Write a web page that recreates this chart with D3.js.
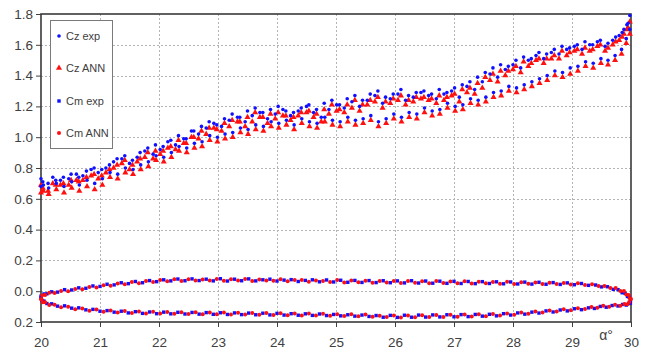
<!DOCTYPE html>
<html>
<head>
<meta charset="utf-8">
<script src="https://cdn.jsdelivr.net/npm/d3@7"></script>
<style>
  html, body { margin: 0; padding: 0; background: #fff; }
  svg { display: block; }
  text { font-family: "Liberation Sans", Arial, sans-serif; fill: #404040; }
</style>
</head>
<body>
<svg id="chart" width="651" height="349"></svg>
<script>
// Angle of attack axis (deg) and coefficient axis tick values
const xTicks = [20, 21, 22, 23, 24, 25, 26, 27, 28, 29, 30];
const yTicks = [-0.2, 0.0, 0.2, 0.4, 0.6, 0.8, 1.0, 1.2, 1.4, 1.6, 1.8];
const seriesNames = ["Cz exp", "Cz ANN", "Cm exp", "Cm ANN"];

// Lift coefficient, upstroke
const czAlphaUp = [
  20.00,20.12,20.25,20.38,20.51,20.64,20.77,20.90,21.03,21.16,
  21.29,21.42,21.55,21.68,21.81,21.94,22.07,22.20,22.33,22.46,
  22.59,22.72,22.85,22.98,23.11,23.24,23.37,23.50,23.63,23.76,
  23.89,24.02,24.15,24.28,24.41,24.54,24.67,24.80,24.93,25.06,
  25.19,25.32,25.45,25.58,25.71,25.84,25.97,26.10,26.23,26.36,
  26.49,26.62,26.75,26.88,27.01,27.14,27.27,27.40,27.53,27.66,
  27.79,27.92,28.05,28.18,28.31,28.44,28.57,28.70,28.83,28.96,
  29.09,29.22,29.35,29.48,29.61,29.74,29.85,29.93,29.98];
const czExpUp = [
  0.73,0.70,0.72,0.74,0.76,0.74,0.78,0.80,0.79,0.82,
  0.86,0.88,0.85,0.90,0.93,0.95,0.94,0.98,1.01,0.99,
  1.04,1.07,1.10,1.08,1.12,1.15,1.13,1.17,1.19,1.16,
  1.18,1.20,1.17,1.16,1.19,1.21,1.18,1.22,1.24,1.21,
  1.25,1.27,1.24,1.28,1.30,1.26,1.28,1.31,1.27,1.29,
  1.30,1.28,1.31,1.29,1.32,1.34,1.36,1.39,1.42,1.45,
  1.47,1.46,1.50,1.52,1.51,1.55,1.54,1.57,1.59,1.58,
  1.60,1.62,1.60,1.63,1.61,1.65,1.68,1.73,1.79];
const czAnnUp = [
  0.69,0.65,0.69,0.70,0.72,0.71,0.74,0.76,0.75,0.79,
  0.82,0.85,0.82,0.86,0.90,0.91,0.91,0.94,0.98,0.96,
  1.00,1.04,1.06,1.05,1.09,1.11,1.10,1.13,1.16,1.13,
  1.15,1.16,1.14,1.13,1.16,1.17,1.15,1.18,1.21,1.18,
  1.21,1.24,1.21,1.24,1.26,1.23,1.25,1.27,1.24,1.26,
  1.26,1.25,1.27,1.26,1.28,1.31,1.32,1.35,1.39,1.41,
  1.43,1.43,1.46,1.49,1.48,1.51,1.51,1.53,1.56,1.55,
  1.57,1.58,1.57,1.60,1.58,1.62,1.65,1.70,1.75];

// Lift coefficient, downstroke
const czAlphaDown = [
  29.98,29.92,29.84,29.73,29.61,29.49,29.36,29.23,29.10,28.97,
  28.84,28.71,28.58,28.45,28.32,28.19,28.06,27.93,27.80,27.67,
  27.54,27.41,27.28,27.15,27.02,26.89,26.76,26.63,26.50,26.37,
  26.24,26.11,25.98,25.85,25.72,25.59,25.46,25.33,25.20,25.07,
  24.94,24.81,24.68,24.55,24.42,24.29,24.16,24.03,23.90,23.77,
  23.64,23.51,23.38,23.25,23.12,22.99,22.86,22.73,22.60,22.47,
  22.34,22.21,22.08,21.95,21.82,21.69,21.56,21.43,21.30,21.17,
  21.04,20.91,20.78,20.65,20.52,20.39,20.26,20.13,20.04,20.00];
const czExpDown = [
  1.70,1.64,1.57,1.53,1.50,1.51,1.48,1.49,1.46,1.45,
  1.42,1.43,1.40,1.38,1.36,1.34,1.32,1.33,1.30,1.29,
  1.26,1.24,1.25,1.21,1.20,1.22,1.18,1.17,1.19,1.15,
  1.16,1.13,1.15,1.12,1.10,1.14,1.12,1.11,1.13,1.10,
  1.11,1.13,1.09,1.10,1.12,1.08,1.11,1.09,1.10,1.07,
  1.08,1.05,1.06,1.03,1.02,1.00,1.01,0.97,0.96,0.93,
  0.94,0.90,0.87,0.88,0.84,0.82,0.79,0.80,0.76,0.77,
  0.73,0.70,0.72,0.69,0.71,0.68,0.70,0.67,0.69,0.68];
const czAnnDown = [
  1.67,1.61,1.54,1.50,1.47,1.48,1.45,1.46,1.43,1.41,
  1.39,1.40,1.37,1.35,1.33,1.31,1.29,1.30,1.27,1.26,
  1.23,1.21,1.22,1.18,1.17,1.19,1.15,1.14,1.16,1.12,
  1.13,1.10,1.12,1.09,1.07,1.11,1.09,1.08,1.10,1.07,
  1.08,1.10,1.06,1.07,1.09,1.05,1.08,1.06,1.07,1.04,
  1.05,1.02,1.03,1.00,0.99,0.97,0.98,0.94,0.93,0.90,
  0.91,0.87,0.84,0.85,0.81,0.79,0.76,0.77,0.73,0.74,
  0.69,0.66,0.68,0.65,0.67,0.64,0.66,0.63,0.65,0.64];

// Lift coefficient, second cycle
const czAlphaMid = [
  20.03,20.20,20.33,20.47,20.60,20.71,20.85,20.97,21.10,21.23,
  21.37,21.50,21.63,21.76,21.90,22.02,22.15,22.28,22.42,22.55,
  22.67,22.80,22.93,23.06,23.19,23.33,23.46,23.58,23.71,23.84,
  23.97,24.10,24.23,24.36,24.50,24.62,24.75,24.88,25.01,25.14,
  25.27,25.40,25.53,25.66,25.79,25.92,26.05,26.18,26.31,26.44,
  26.57,26.70,26.83,26.96,27.09,27.22,27.35,27.48,27.61,27.74,
  27.87,28.00,28.13,28.26,28.39,28.52,28.65,28.78,28.91,29.04,
  29.17,29.30,29.43,29.56,29.69,29.80,29.88,29.95];
const czExpMid = [
  0.71,0.74,0.72,0.73,0.76,0.75,0.79,0.77,0.80,0.84,
  0.86,0.83,0.87,0.91,0.89,0.92,0.97,0.95,0.99,1.04,
  1.02,1.06,1.09,1.07,1.11,1.13,1.10,1.14,1.16,1.12,
  1.15,1.18,1.14,1.17,1.20,1.16,1.13,1.18,1.21,1.19,
  1.23,1.20,1.24,1.27,1.22,1.25,1.28,1.24,1.26,1.29,
  1.27,1.25,1.28,1.30,1.26,1.33,1.31,1.36,1.41,1.39,
  1.44,1.47,1.45,1.50,1.53,1.51,1.55,1.54,1.57,1.59,
  1.57,1.60,1.62,1.59,1.63,1.66,1.70,1.74];
const czAnnMid = [
  0.67,0.70,0.69,0.69,0.72,0.72,0.75,0.73,0.77,0.80,
  0.83,0.79,0.84,0.87,0.86,0.89,0.93,0.92,0.96,1.00,
  0.99,1.02,1.06,1.04,1.07,1.10,1.07,1.10,1.13,1.09,
  1.12,1.14,1.11,1.14,1.16,1.13,1.10,1.15,1.17,1.16,
  1.19,1.17,1.21,1.23,1.19,1.22,1.24,1.21,1.23,1.25,
  1.24,1.22,1.24,1.27,1.23,1.29,1.28,1.32,1.37,1.36,
  1.40,1.44,1.42,1.46,1.50,1.48,1.51,1.51,1.53,1.56,
  1.54,1.56,1.59,1.56,1.60,1.63,1.67,1.71];

// Pitching moment coefficient, upper branch (experiment)
const cmAlphaUp = [
  20.00,20.05,20.10,20.18,20.28,20.40,20.52,20.64,20.76,20.88,
  21.00,21.12,21.24,21.36,21.48,21.60,21.72,21.84,21.96,22.08,
  22.20,22.32,22.44,22.56,22.68,22.80,22.92,23.04,23.16,23.28,
  23.40,23.52,23.64,23.76,23.88,24.00,24.12,24.24,24.36,24.48,
  24.60,24.72,24.84,24.96,25.08,25.20,25.32,25.44,25.56,25.68,
  25.80,25.92,26.04,26.16,26.28,26.40,26.52,26.64,26.76,26.88,
  27.00,27.12,27.24,27.36,27.48,27.60,27.72,27.84,27.96,28.08,
  28.20,28.32,28.44,28.56,28.68,28.80,28.92,29.04,29.16,29.28,
  29.40,29.50,29.60,29.70,29.78,29.85,29.90,29.94,29.97,29.99];
const cmExpUp = [
  -0.032,-0.018,-0.017,-0.004,-0.006,0.010,0.008,0.022,0.019,0.034,
  0.031,0.045,0.041,0.055,0.049,0.063,0.055,0.069,0.062,0.074,
  0.067,0.079,0.068,0.080,0.069,0.078,0.067,0.081,0.066,0.078,
  0.068,0.080,0.067,0.074,0.078,0.066,0.072,0.075,0.063,0.070,
  0.074,0.061,0.073,0.060,0.071,0.058,0.070,0.057,0.069,0.056,
  0.068,0.055,0.067,0.054,0.068,0.053,0.066,0.052,0.065,0.051,
  0.064,0.050,0.063,0.049,0.062,0.050,0.061,0.048,0.060,0.047,
  0.059,0.046,0.058,0.045,0.056,0.044,0.054,0.042,0.050,0.038,
  0.040,0.028,0.029,0.012,0.010,-0.010,-0.014,-0.034,-0.038,-0.060];

// Pitching moment coefficient, upper branch (network)
const cmAnnAlphaUp = [
  20.02,20.07,20.14,20.23,20.34,20.46,20.58,20.70,20.82,20.94,
  21.06,21.18,21.30,21.42,21.54,21.66,21.78,21.90,22.02,22.14,
  22.26,22.38,22.50,22.62,22.74,22.86,22.98,23.10,23.22,23.34,
  23.46,23.58,23.70,23.82,23.94,24.06,24.18,24.30,24.42,24.54,
  24.66,24.78,24.90,25.02,25.14,25.26,25.38,25.50,25.62,25.74,
  25.86,25.98,26.10,26.22,26.34,26.46,26.58,26.70,26.82,26.94,
  27.06,27.18,27.30,27.42,27.54,27.66,27.78,27.90,28.02,28.14,
  28.26,28.38,28.50,28.62,28.74,28.86,28.98,29.10,29.22,29.34,
  29.45,29.55,29.65,29.74,29.82,29.88,29.92,29.96,29.98,30.00];
const cmAnnUp = [
  -0.026,-0.024,-0.010,-0.012,0.001,-0.001,0.014,0.012,0.027,0.024,
  0.038,0.036,0.050,0.045,0.060,0.052,0.066,0.060,0.072,0.065,
  0.077,0.066,0.078,0.070,0.076,0.069,0.080,0.068,0.077,0.069,
  0.079,0.066,0.076,0.070,0.068,0.077,0.065,0.073,0.072,0.062,
  0.070,0.067,0.060,0.072,0.057,0.069,0.058,0.068,0.055,0.067,
  0.057,0.066,0.053,0.067,0.055,0.064,0.051,0.066,0.053,0.063,
  0.052,0.064,0.050,0.061,0.051,0.060,0.049,0.061,0.047,0.058,
  0.048,0.057,0.046,0.055,0.047,0.053,0.043,0.051,0.041,0.045,
  0.034,0.034,0.021,0.020,0.002,0.001,-0.022,-0.024,-0.046,-0.050];

// Pitching moment coefficient, lower branch (experiment)
const cmAlphaDown = [
  29.99,29.96,29.92,29.86,29.78,29.68,29.58,29.48,29.38,29.28,
  29.16,29.04,28.92,28.80,28.68,28.56,28.44,28.32,28.20,28.08,
  27.96,27.84,27.72,27.60,27.48,27.36,27.24,27.12,27.00,26.88,
  26.76,26.64,26.52,26.40,26.28,26.16,26.04,25.92,25.80,25.68,
  25.56,25.44,25.32,25.20,25.08,24.96,24.84,24.72,24.60,24.48,
  24.36,24.24,24.12,24.00,23.88,23.76,23.64,23.52,23.40,23.28,
  23.16,23.04,22.92,22.80,22.68,22.56,22.44,22.32,22.20,22.08,
  21.96,21.84,21.72,21.60,21.48,21.36,21.24,21.12,21.00,20.88,
  20.76,20.64,20.52,20.40,20.28,20.18,20.10,20.05,20.02,20.00];
const cmExpDown = [
  -0.078,-0.080,-0.090,-0.086,-0.096,-0.093,-0.104,-0.099,-0.112,-0.108,
  -0.120,-0.114,-0.128,-0.122,-0.135,-0.128,-0.142,-0.136,-0.149,-0.141,
  -0.155,-0.146,-0.160,-0.150,-0.162,-0.151,-0.165,-0.152,-0.166,-0.153,
  -0.167,-0.154,-0.168,-0.155,-0.169,-0.156,-0.170,-0.157,-0.169,-0.158,
  -0.164,-0.155,-0.162,-0.153,-0.160,-0.151,-0.158,-0.148,-0.157,-0.147,
  -0.156,-0.146,-0.155,-0.144,-0.154,-0.143,-0.153,-0.142,-0.152,-0.141,
  -0.151,-0.140,-0.150,-0.139,-0.149,-0.138,-0.148,-0.137,-0.147,-0.136,
  -0.146,-0.135,-0.144,-0.133,-0.141,-0.130,-0.136,-0.126,-0.130,-0.118,
  -0.121,-0.108,-0.110,-0.095,-0.097,-0.082,-0.080,-0.064,-0.062,-0.044];

// Pitching moment coefficient, lower branch (network)
const cmAnnAlphaDown = [
  29.97,29.94,29.89,29.82,29.73,29.63,29.53,29.43,29.33,29.22,
  29.10,28.98,28.86,28.74,28.62,28.50,28.38,28.26,28.14,28.02,
  27.90,27.78,27.66,27.54,27.42,27.30,27.18,27.06,26.94,26.82,
  26.70,26.58,26.46,26.34,26.22,26.10,25.98,25.86,25.74,25.62,
  25.50,25.38,25.26,25.14,25.02,24.90,24.78,24.66,24.54,24.42,
  24.30,24.18,24.06,23.94,23.82,23.70,23.58,23.46,23.34,23.22,
  23.10,22.98,22.86,22.74,22.62,22.50,22.38,22.26,22.14,22.02,
  21.90,21.78,21.66,21.54,21.42,21.30,21.18,21.06,20.94,20.82,
  20.70,20.58,20.46,20.34,20.23,20.14,20.07,20.03,20.01,20.00];
const cmAnnDown = [
  -0.070,-0.084,-0.083,-0.094,-0.088,-0.101,-0.095,-0.108,-0.102,-0.116,
  -0.110,-0.124,-0.118,-0.132,-0.125,-0.139,-0.132,-0.146,-0.138,-0.153,
  -0.144,-0.158,-0.148,-0.163,-0.150,-0.164,-0.152,-0.166,-0.153,-0.167,
  -0.155,-0.168,-0.156,-0.169,-0.157,-0.170,-0.158,-0.168,-0.160,-0.166,
  -0.152,-0.163,-0.150,-0.161,-0.149,-0.159,-0.146,-0.158,-0.145,-0.157,
  -0.144,-0.156,-0.143,-0.154,-0.142,-0.153,-0.141,-0.152,-0.140,-0.151,
  -0.139,-0.150,-0.138,-0.149,-0.137,-0.148,-0.136,-0.147,-0.135,-0.145,
  -0.134,-0.144,-0.132,-0.142,-0.129,-0.138,-0.125,-0.134,-0.119,-0.127,
  -0.112,-0.117,-0.101,-0.104,-0.088,-0.090,-0.072,-0.072,-0.053,-0.052];

const pairs = (xs, ys) => xs.map((a, i) => [a, ys[i]]);
const czExp = [].concat(pairs(czAlphaUp, czExpUp), pairs(czAlphaDown, czExpDown), pairs(czAlphaMid, czExpMid));
const czAnn = [].concat(pairs(czAlphaUp, czAnnUp), pairs(czAlphaDown, czAnnDown), pairs(czAlphaMid, czAnnMid));
const cmExp = [].concat(pairs(cmAlphaUp, cmExpUp), pairs(cmAlphaDown, cmExpDown));
const cmAnn = [].concat(pairs(cmAnnAlphaUp, cmAnnUp), pairs(cmAnnAlphaDown, cmAnnDown));

const svg = d3.select("#chart");
const plotL = 41, plotR = 631, plotT = 14, plotB = 322;
const x = d3.scaleLinear().domain([20, 30]).range([plotL, plotR]);
const y = d3.scaleLinear().domain([-0.2, 1.8]).range([plotB, plotT]);

// dashed grid
const grid = svg.append("g").attr("stroke", "#b4b4b4").attr("stroke-dasharray", "2,2").attr("stroke-width", 1);
grid.selectAll(".gx").data(xTicks.slice(1, -1)).join("line")
  .attr("x1", d => Math.round(x(d)) + 0.5).attr("x2", d => Math.round(x(d)) + 0.5)
  .attr("y1", plotT).attr("y2", plotB);
grid.selectAll(".gy").data(yTicks.slice(1, -1)).join("line")
  .attr("y1", d => Math.round(y(d)) + 0.5).attr("y2", d => Math.round(y(d)) + 0.5)
  .attr("x1", plotL).attr("x2", plotR);

// axes
const fmt = d3.format(".1f");
const yAxis = d3.axisLeft(y).tickValues(yTicks).tickSize(5).tickPadding(3)
  .tickFormat(d => fmt(Math.abs(d)));
const xAxis = d3.axisBottom(x).tickValues(xTicks).tickSize(5).tickPadding(10)
  .tickFormat(d3.format("d"));
const gy = svg.append("g").attr("transform", `translate(${plotL},0)`).call(yAxis);
const gx = svg.append("g").attr("transform", `translate(0,${plotB})`).call(xAxis);
[gx, gy].forEach(g => {
  g.select(".domain").remove();
  g.selectAll(".tick line").attr("stroke", "#404040");
  g.selectAll(".tick text").attr("font-size", 13.5).attr("fill", "#404040")
    .style("font-family", '"Liberation Sans", Arial, sans-serif');
});

// plot frame
svg.append("rect").attr("x", plotL).attr("y", plotT)
  .attr("width", plotR - plotL).attr("height", plotB - plotT)
  .attr("fill", "none").attr("stroke", "#3a3a3a").attr("stroke-width", 1.6);

const tri = d3.symbol().type(d3.symbolTriangle).size(16);
const marks = svg.append("g");

function dots(data, color, r) {
  marks.append("g").selectAll("circle").data(data).join("circle")
    .attr("cx", d => x(d[0])).attr("cy", d => y(d[1])).attr("r", r).attr("fill", color);
}
function squares(data, color, s) {
  marks.append("g").selectAll("rect").data(data).join("rect")
    .attr("x", d => x(d[0]) - s / 2).attr("y", d => y(d[1]) - s / 2)
    .attr("width", s).attr("height", s).attr("fill", color);
}
function triangles(data, color) {
  marks.append("g").selectAll("path").data(data).join("path")
    .attr("d", tri).attr("transform", d => `translate(${x(d[0])},${y(d[1])})`).attr("fill", color);
}

triangles(czAnn, "#ff1010");
dots(czExp, "#1010ff", 1.8);
squares(cmExp, "#1010ff", 3.4);
dots(cmAnn, "#ff1010", 2.0);

// legend
const lg = svg.append("g");
lg.append("rect").attr("x", 50.5).attr("y", 20.5).attr("width", 62).attr("height", 128)
  .attr("fill", "#fff").attr("stroke", "#7a7a7a").attr("stroke-width", 1);
const rowsY = [36, 68, 101, 133];
const lgMarks = [
  g => g.append("circle").attr("r", 1.8).attr("fill", "#1010ff"),
  g => g.append("path").attr("d", tri).attr("fill", "#ff1010"),
  g => g.append("rect").attr("x", -1.7).attr("y", -1.7).attr("width", 3.4).attr("height", 3.4).attr("fill", "#1010ff"),
  g => g.append("circle").attr("r", 2.0).attr("fill", "#ff1010")
];
seriesNames.forEach((name, i) => {
  const g = lg.append("g").attr("transform", `translate(59,${rowsY[i]})`);
  lgMarks[i](g);
  lg.append("text").attr("x", 66).attr("y", rowsY[i]).attr("dy", "0.35em")
    .attr("font-size", 11).text(name);
});

// axis title
svg.append("text").attr("x", 606).attr("y", 340).attr("text-anchor", "middle")
  .attr("font-size", 14).text("α°");
</script>
</body>
</html>
